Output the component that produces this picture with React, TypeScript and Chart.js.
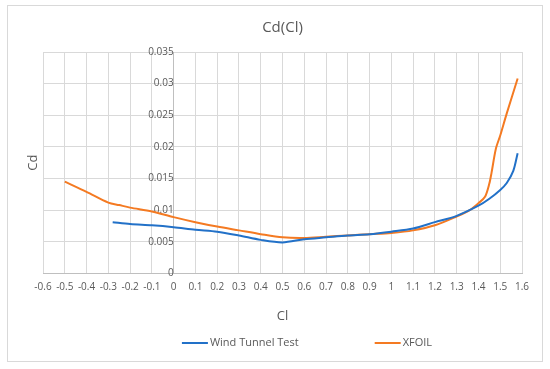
import React, { useEffect, useRef } from "react";
import { Chart, registerables } from "chart.js";

Chart.register(...registerables);

const chartTitle = "Cd(Cl)";
const xAxisTitle = "Cl";
const yAxisTitle = "Cd";
const seriesNames = ["Wind Tunnel Test", "XFOIL"];
const seriesColors = ["#2271C8", "#F47A22"];

const windCl = [-0.28, -0.2, -0.1, 0, 0.1, 0.2, 0.3, 0.4, 0.5, 0.6, 0.7, 0.8, 0.9, 1.0, 1.1, 1.2, 1.3, 1.4, 1.45, 1.5, 1.53, 1.56, 1.58];
const windCd = [0.0081, 0.0078, 0.0076, 0.0073, 0.0069, 0.0066, 0.006, 0.0053, 0.0049, 0.0054, 0.0057, 0.006, 0.0062, 0.0066, 0.0071, 0.0081, 0.0091, 0.0107, 0.0118, 0.0132, 0.0143, 0.0162, 0.019];

const xfoilCl = [-0.5, -0.4, -0.3, -0.25, -0.2, -0.1, 0, 0.1, 0.2, 0.3, 0.4, 0.5, 0.6, 0.7, 0.8, 0.9, 1.0, 1.1, 1.2, 1.3, 1.36, 1.4, 1.43, 1.45, 1.46, 1.48, 1.5, 1.53, 1.58];
const xfoilCd = [0.0145, 0.0129, 0.0112, 0.0108, 0.0104, 0.0098, 0.0089, 0.0081, 0.0074, 0.0068, 0.0062, 0.0057, 0.0056, 0.0058, 0.006, 0.0062, 0.0064, 0.0068, 0.0076, 0.009, 0.01, 0.0111, 0.0121, 0.0142, 0.0159, 0.0197, 0.0218, 0.0253, 0.0308];

const xMin = -0.6;
const xMax = 1.6;
const xStep = 0.1;
const yMin = 0;
const yMax = 0.035;
const yStep = 0.005;

const FONT = "'Open Sans', sans-serif";
const TEXT = "#595959";

export default function App() {
  const ref = useRef<HTMLCanvasElement>(null);

  useEffect(() => {
    const canvas = ref.current;
    if (!canvas) return;

    const frame = {
      id: "frame",
      beforeDraw(chart: any) {
        const ctx = chart.ctx;
        ctx.save();
        ctx.fillStyle = "#ffffff";
        ctx.fillRect(0, 0, chart.width, chart.height);
        ctx.strokeStyle = "#d9d9d9";
        ctx.lineWidth = 1;
        ctx.strokeRect(7.5, 5.5, 535, 356);
        ctx.restore();
      },
    };

    const extras = {
      id: "extras",
      afterDraw(chart: any) {
        const ctx = chart.ctx;
        const area = chart.chartArea;
        ctx.save();
        ctx.fillStyle = TEXT;
        ctx.font = `13px ${FONT}`;
        ctx.textAlign = "center";
        ctx.textBaseline = "middle";
        ctx.translate(33, (area.top + area.bottom) / 2);
        ctx.rotate(-Math.PI / 2);
        ctx.fillText(yAxisTitle, 0, 0);
        ctx.restore();

        ctx.save();
        ctx.font = `11px ${FONT}`;
        ctx.textBaseline = "middle";
        ctx.textAlign = "left";
        const lineW = 26;
        const gapText = 2;
        const gapItem = 76;
        const items = chart.data.datasets.map((d: any) => ({
          label: d.label,
          color: d.borderColor,
          w: lineW + gapText + ctx.measureText(d.label).width,
        }));
        const total = items.reduce((s: number, it: any) => s + it.w, 0) + gapItem * (items.length - 1);
        let x = 307 - total / 2;
        const y = 343;
        items.forEach((it: any) => {
          ctx.strokeStyle = it.color;
          ctx.lineWidth = 2;
          ctx.beginPath();
          ctx.moveTo(x, y);
          ctx.lineTo(x + lineW, y);
          ctx.stroke();
          ctx.fillStyle = TEXT;
          ctx.fillText(it.label, x + lineW + gapText, y);
          x += it.w + gapItem;
        });
        ctx.restore();
      },
    };

    const chart = new Chart(canvas, {
      type: "line",
      data: {
        datasets: [
          {
            label: seriesNames[0],
            data: windCl.map((c, i) => ({ x: c, y: windCd[i] })),
            borderColor: seriesColors[0],
            backgroundColor: seriesColors[0],
            borderWidth: 2,
            pointRadius: 0,
            tension: 0.3,
            fill: false,
          },
          {
            label: seriesNames[1],
            data: xfoilCl.map((c, i) => ({ x: c, y: xfoilCd[i] })),
            borderColor: seriesColors[1],
            backgroundColor: seriesColors[1],
            borderWidth: 2,
            pointRadius: 0,
            tension: 0.3,
            fill: false,
          },
        ],
      },
      options: {
        responsive: false,
        animation: false,
        devicePixelRatio: 1,
        layout: { padding: { left: 43, right: 28, top: 0, bottom: 41 } },
        plugins: {
          legend: { display: false },
          tooltip: { enabled: false },
          title: {
            display: true,
            text: chartTitle,
            color: TEXT,
            font: { family: FONT, size: 15, weight: "normal" },
            padding: { top: 19, bottom: 15 },
          },
        },
        scales: {
          x: {
            type: "linear",
            min: xMin,
            max: xMax,
            grid: { color: "#d9d9d9", drawTicks: false },
            border: { color: "#bfbfbf" },
            ticks: {
              stepSize: xStep,
              autoSkip: false,
              maxRotation: 0,
              padding: 8,
              color: TEXT,
              font: { family: FONT, size: 10 },
              callback: (v: any) => String(+Number(v).toFixed(1)),
            },
            title: {
              display: true,
              text: xAxisTitle,
              color: TEXT,
              font: { family: FONT, size: 13 },
              padding: { top: 7, bottom: 4 },
            },
          },
          y: {
            type: "linear",
            position: { x: 0 } as any,
            min: yMin,
            max: yMax,
            grid: { color: "#d9d9d9", drawTicks: false },
            border: { color: "#bfbfbf" },
            ticks: {
              stepSize: yStep,
              padding: 9,
              color: TEXT,
              font: { family: FONT, size: 10 },
              callback: (v: any) => String(+Number(v).toFixed(3)),
            },
          },
        },
      },
      plugins: [frame, extras],
    } as any);

    return () => chart.destroy();
  }, []);

  return (
    <div style={{ position: "absolute", left: 0, top: 0, width: 550, height: 369 }}>
      <canvas ref={ref} width={550} height={369} style={{ display: "block" }} />
    </div>
  );
}
